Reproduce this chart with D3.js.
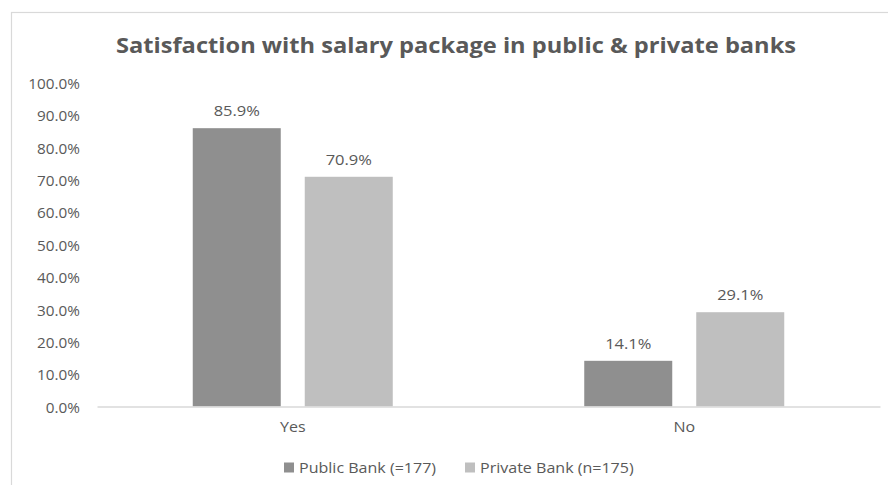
<!DOCTYPE html>
<html>
<head>
<meta charset="utf-8">
<script src="https://cdn.jsdelivr.net/npm/d3@7"></script>
<style>
  html, body { margin: 0; padding: 0; background: #fff; }
  svg { display: block; }
  text { font-family: "Open Sans", "Noto Sans", sans-serif; fill: #595959; }
</style>
</head>
<body>
<svg id="chart" width="888" height="485"></svg>
<script>
// Survey answers and share of respondents per bank type
const categories = ["Yes", "No"];
const seriesNames = ["Public Bank (=177)", "Private Bank (n=175)"];
const publicBank = [85.9, 14.1];
const privateBank = [70.9, 29.1];
const yTicks = [0, 10, 20, 30, 40, 50, 60, 70, 80, 90, 100];
const seriesColors = ["#8f8f8f", "#bfbfbf"];

const svg = d3.select("#chart");
const FONT = 15;        // body text size
const STRETCH = 1.07;   // slightly widened lettering
const TITLE_STRETCH = 1.1;

// place a text at (x,y) with a horizontal widening about its anchor
function placeText(sel, x, y, sx = STRETCH) {
  sel.attr("transform", `translate(${x},${y}) scale(${sx},1)`);
  return sel;
}

// Chart area outline
svg.append("rect")
  .attr("x", 11.5).attr("y", 12.5)
  .attr("width", 900).attr("height", 500)
  .attr("fill", "none").attr("stroke", "#d9d9d9").attr("stroke-width", 1.2);

placeText(svg.append("text"), 456, 53, TITLE_STRETCH)
  .attr("text-anchor", "middle")
  .attr("font-size", 21.5).attr("font-weight", "bold")
  .text("Satisfaction with salary package in public & private banks");

const plot = { left: 97, right: 880, top: 82.5, bottom: 406.5 };

const x0 = d3.scaleBand().domain(categories).range([plot.left, plot.right]);
const y = d3.scaleLinear().domain([0, 100]).range([plot.bottom, plot.top]);

const barW = 88, gap = 24;
const barOffset = k => (k === 0 ? -(barW + gap / 2) : gap / 2);

// Y axis labels
const yAxis = d3.axisLeft(y).tickValues(yTicks).tickFormat(d => d.toFixed(1) + "%").tickSize(0).tickPadding(0);
const ya = svg.append("g").attr("transform", "translate(80,1)").call(yAxis);
ya.select(".domain").remove();
ya.selectAll("text")
  .attr("font-size", FONT).attr("font-family", null)
  .attr("transform", "scale(1.02,1)")
  .style("fill", "#595959");

const series = [publicBank, privateBank];
const rows = categories.map((c, i) => ({ cat: c, vals: series.map((s, k) => ({ k, v: s[i] })) }));

const groups = svg.selectAll("g.cat").data(rows).join("g")
  .attr("class", "cat")
  .attr("transform", d => `translate(${x0(d.cat) + x0.bandwidth() / 2},0)`);

groups.selectAll("rect").data(d => d.vals).join("rect")
  .attr("x", d => barOffset(d.k))
  .attr("width", barW)
  .attr("y", d => y(d.v))
  .attr("height", d => y(0) - y(d.v))
  .attr("fill", d => seriesColors[d.k]);

groups.selectAll("text.val").data(d => d.vals).join("text")
  .attr("class", "val")
  .attr("text-anchor", "middle")
  .attr("font-size", FONT)
  .each(function (d) { placeText(d3.select(this), barOffset(d.k) + barW / 2, y(d.v) - 12, 1.1); })
  .text(d => d.v.toFixed(1) + "%");

// X axis baseline and category labels
const xAxis = d3.axisBottom(x0).tickSize(0).tickPadding(15);
const xa = svg.append("g").attr("transform", `translate(0,${plot.bottom})`).call(xAxis);
xa.select(".domain").attr("stroke", "#d9d9d9").attr("stroke-width", 1.5);
xa.selectAll("text")
  .attr("font-size", FONT).attr("font-family", null)
  .attr("transform", `scale(${STRETCH},1)`)
  .style("fill", "#595959");

// Legend
const legend = svg.append("g").attr("transform", "translate(0,467.5)");
const legendX = [284, 465];
seriesNames.forEach((name, i) => {
  const g = legend.append("g").attr("transform", `translate(${legendX[i]},0)`);
  g.append("rect").attr("x", 0).attr("y", -5).attr("width", 10).attr("height", 10).attr("fill", seriesColors[i]);
  placeText(g.append("text"), 15, 5.5).attr("font-size", FONT).text(name);
});
</script>
</body>
</html>
